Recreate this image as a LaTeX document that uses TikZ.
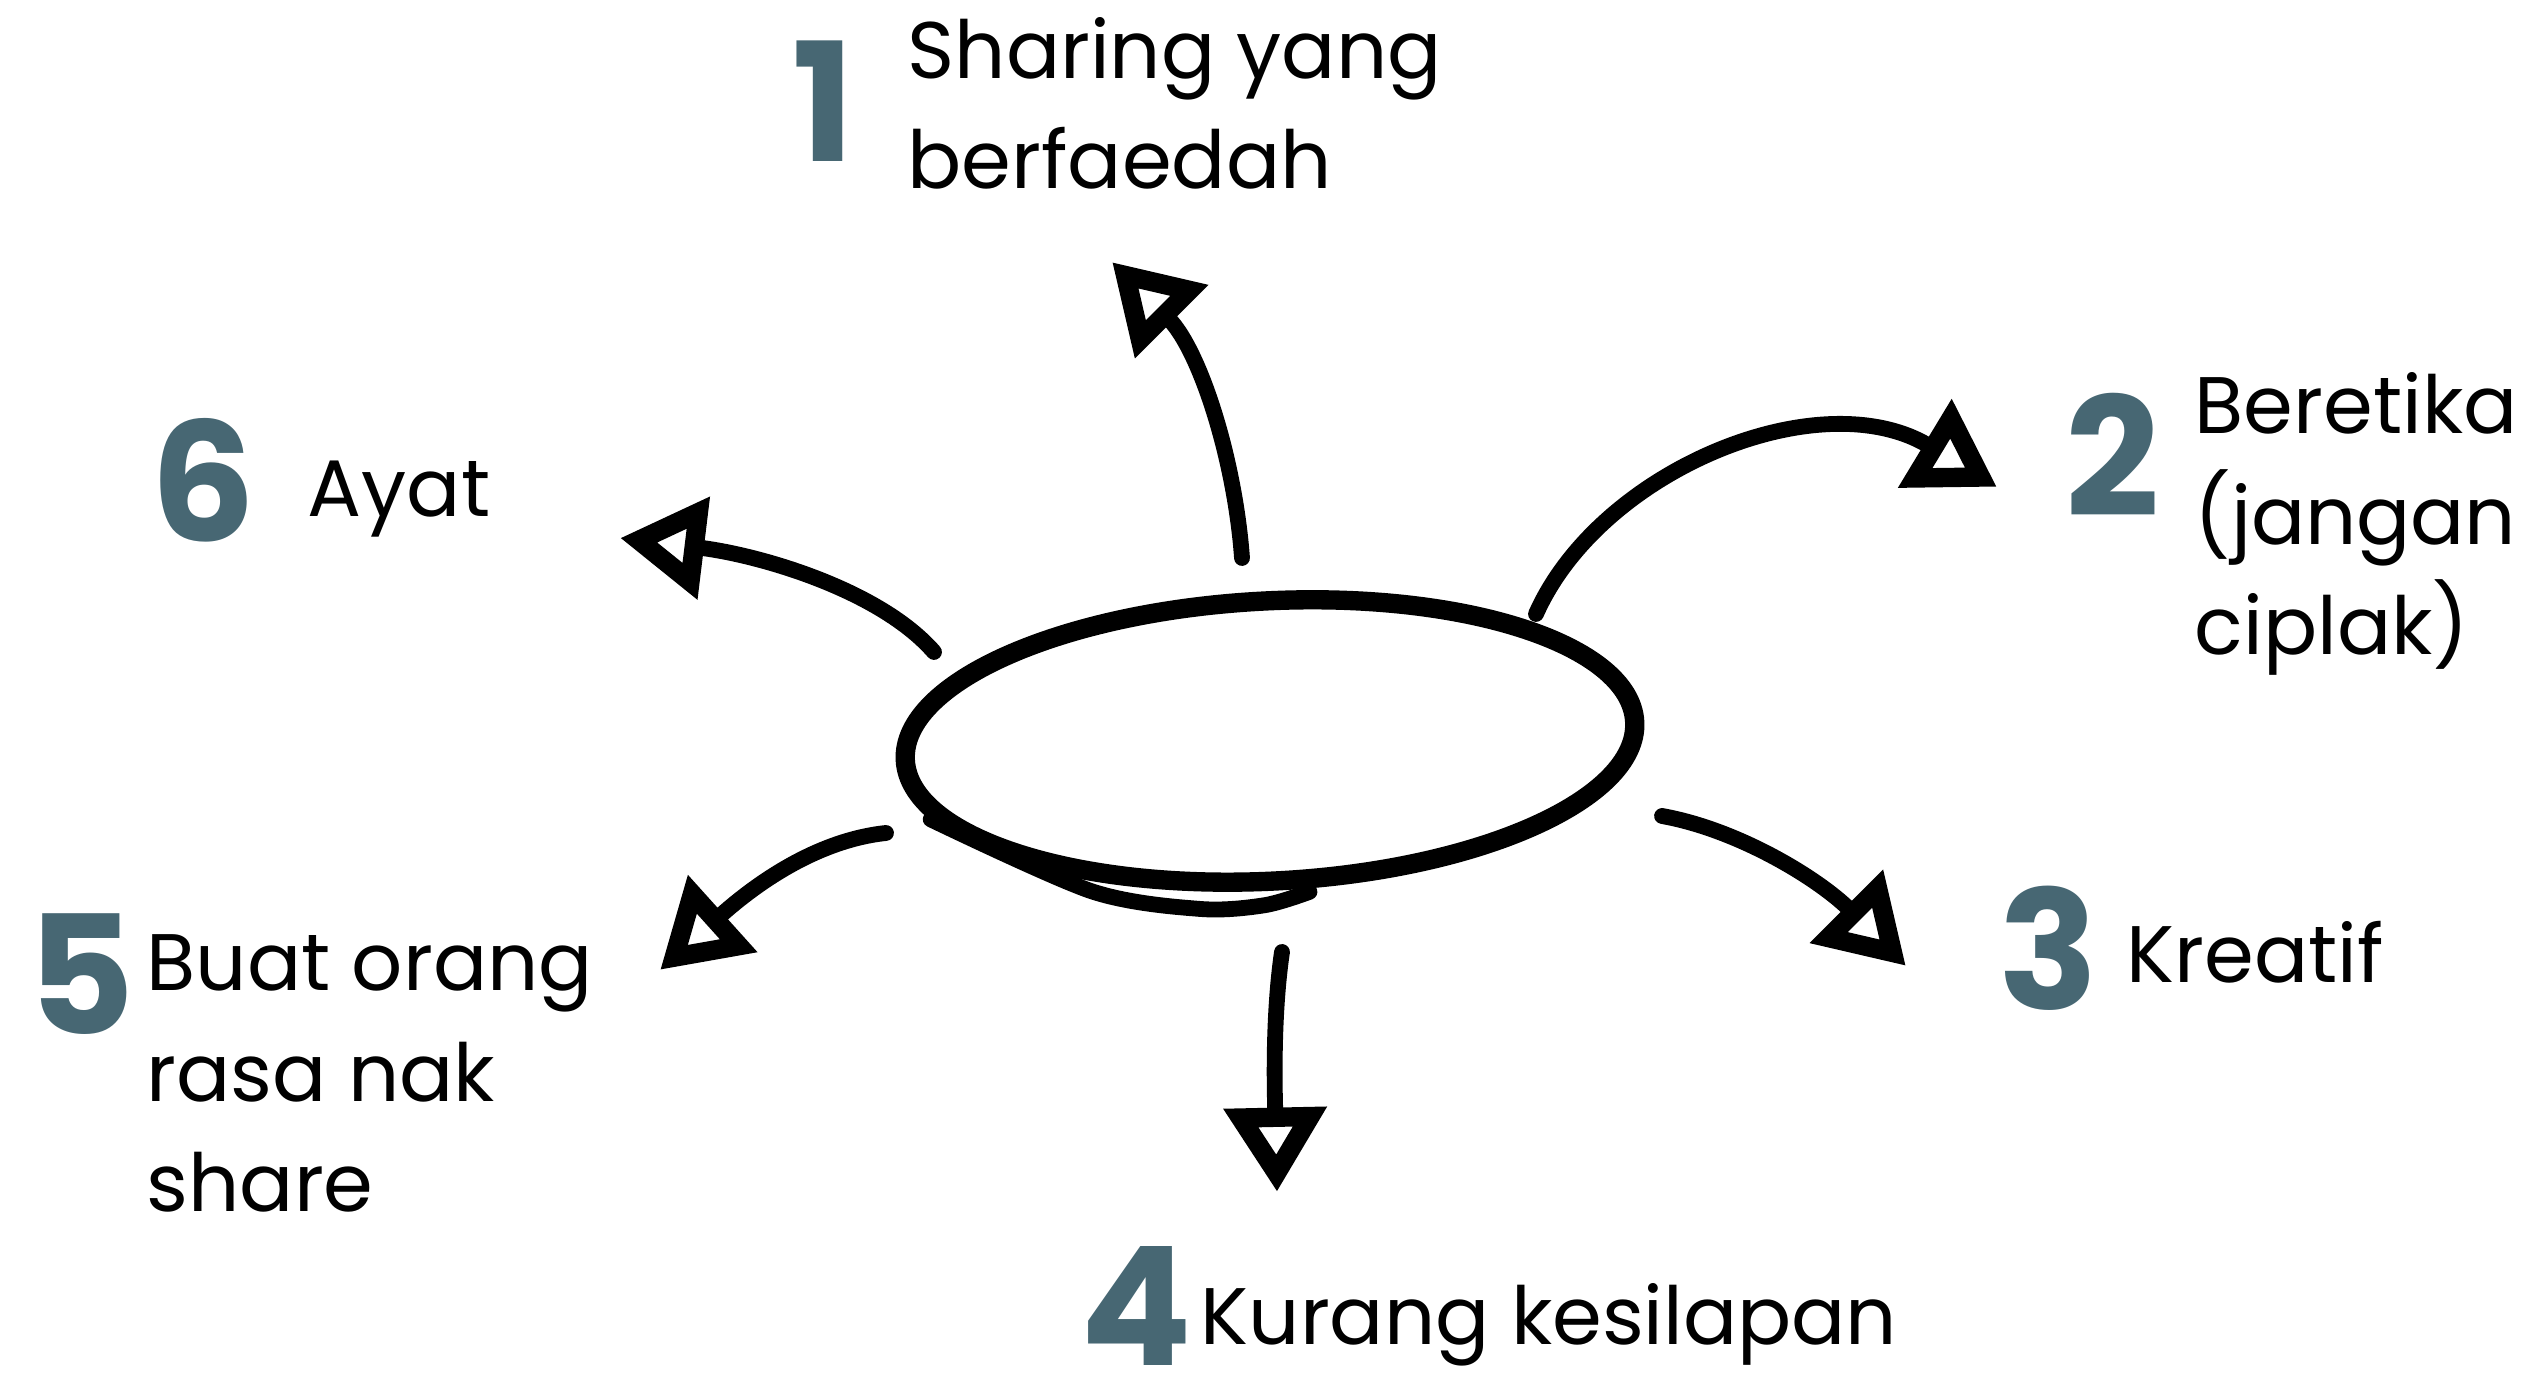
\documentclass[tikz,border=0pt]{standalone}
\usepackage{fontspec}
\setmainfont{Poppins}
\usepackage{tikz}
\usetikzlibrary{arrows.meta, positioning, shapes.geometric}
\definecolor{numcolor}{RGB}{71, 103, 115}

\begin{document}
\begin{tikzpicture}[
    x=0.01cm, y=-0.01cm,
    num/.style={font=\fontsize{47}{47}\selectfont\bfseries, text=numcolor, inner sep=0pt, anchor=base west},
    itemtext/.style={font=\fontsize{22.8}{31.5}\selectfont, align=left, inner sep=0pt, anchor=base west},
    hub/.style={draw, ellipse, line width=5.5pt, minimum width=7.3cm, minimum height=2.8cm, rotate=3},
    arrow/.style={-{Triangle[open, length=24pt, width=28pt, line width=5.5pt]}, line width=4.5pt, line cap=round}
]
    \useasboundingbox (0,0) rectangle (2535,1374);

    % Numbers
    \node[num] (n1) at (792,162) {1};
    \node[num] (n2) at (2065,517) {2};
    \node[num] (n3) at (1998,1010) {3};
    \node[num] (n4) at (1080,1366) {4};
    \node[num] (n5) at (27,1035) {5};
    \node[num] (n6) at (150,542) {6};

    % Texts (base = last line)
    \node[itemtext] (t1) at (907,189) {Sharing yang\\berfaedah};
    \node[itemtext] (t2) at (2194,655) {Beretika\\(jangan\\ciplak)};
    \node[itemtext] (t3) at (2126,983) {Kreatif};
    \node[itemtext] (t4) at (1200,1345) {Kurang kesilapan};
    \node[itemtext] (t5) at (146,1212) {Buat orang\\rasa nak\\share};
    \node[itemtext] (t6) at (307,517) {Ayat};

    % Centre
    \node[hub] (hub) at (1270,741) {};
    \draw[line width=4.5pt, line cap=round] plot[smooth] coordinates {(hub.190) ([yshift=-3pt]hub.215) ([yshift=-5pt]hub.242) ([yshift=-4pt]hub.265) ([yshift=-1pt]hub.282)};

    % Arrow ends
    \coordinate (a1s) at (1242,558);  \coordinate (a1e) at (1112,262);
    \coordinate (a2s) at (1536,614);  \coordinate (a2e) at (1997,487);
    \coordinate (a3s) at (1662,816);  \coordinate (a3e) at (1906,966);
    \coordinate (a4s) at (1282,952);  \coordinate (a4e) at (1277,1192);
    \coordinate (a5s) at (886,833);   \coordinate (a5e) at (660,970);
    \coordinate (a6s) at (934,652);   \coordinate (a6e) at (620,538);

    % Arrows
    \draw[arrow] (a1s) .. controls (1235,460) and (1200,350) .. (a1e);
    \draw[arrow] (a2s) .. controls (1600,470) and (1820,380) .. (a2e);
    \draw[arrow] (a3s) .. controls (1740,830) and (1820,880) .. (a3e);
    \draw[arrow] (a4s) .. controls (1272,1020) and (1275,1100) .. (a4e);
    \draw[arrow] (a5s) .. controls (820,840) and (760,880) .. (a5e);
    \draw[arrow] (a6s) .. controls (880,590) and (760,555) .. (a6e);
\end{tikzpicture}
\end{document}
